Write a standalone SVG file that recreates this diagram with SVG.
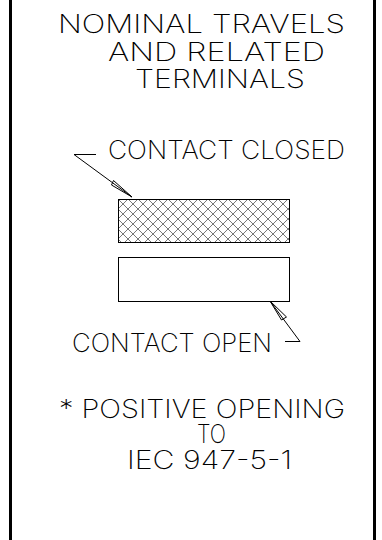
<svg xmlns="http://www.w3.org/2000/svg" width="382" height="540" viewBox="0 0 382 540">
<style>
.t{font-family:Inter,"Liberation Sans",sans-serif;font-weight:200;font-size:26px;fill:#000}
.ln{stroke:#000;stroke-width:1;fill:none}
.bd{stroke:#000;stroke-width:3;fill:none}
</style>
<defs>
<pattern id="hatch" patternUnits="userSpaceOnUse" x="118" y="199" width="10" height="10">
<path d="M0,0 L10,10 M10,0 L0,10 M-1,9 L1,11 M9,-1 L11,1 M-1,1 L1,-1 M9,11 L11,9" stroke="#555" stroke-width="0.8" fill="none"/>
</pattern>
</defs>
<rect width="382" height="540" fill="#fff"/>
<g id="frame">
<line class="bd" x1="10.5" y1="0" x2="10.5" y2="540"/>
<line class="bd" x1="374.5" y1="0" x2="374.5" y2="540"/>
</g>
<g id="title">
<text class="t" x="58" y="33" textLength="287" lengthAdjust="spacingAndGlyphs">NOMINAL TRAVELS</text>
<text class="t" x="108" y="61" textLength="217" lengthAdjust="spacingAndGlyphs">AND RELATED</text>
<text class="t" x="135" y="88" textLength="170" lengthAdjust="spacingAndGlyphs">TERMINALS</text>
</g>
<g id="closed">
<rect x="118.5" y="199.5" width="171" height="43" fill="url(#hatch)" stroke="#000" stroke-width="1"/>
<text class="t" x="108" y="159" textLength="237" lengthAdjust="spacingAndGlyphs">CONTACT CLOSED</text>
</g>
<g id="open">
<rect x="118.5" y="257.5" width="171" height="44" fill="#fff" stroke="#000" stroke-width="1"/>
<text class="t" x="72" y="352" textLength="200" lengthAdjust="spacingAndGlyphs">CONTACT OPEN</text>
</g>
<g id="note">
<text class="t" x="59" y="418" textLength="286" lengthAdjust="spacingAndGlyphs">* POSITIVE OPENING</text>
<text class="t" x="197" y="443" textLength="29" lengthAdjust="spacingAndGlyphs">TO</text>
<text class="t" x="127" y="469" textLength="165" lengthAdjust="spacingAndGlyphs">IEC 947-5-1</text>
</g>
<g id="connectors">
<path class="ln" d="M96,154.5 L74,154.5 L132,197"/>
<path class="ln" d="M132,197 L113.5,180.5 L111.5,185 Z"/>
<path class="ln" d="M285,341.5 L300,341.5 L270,301"/>
<path class="ln" d="M270,301 L286.5,317 L281.5,320 Z"/>
</g>
</svg>
